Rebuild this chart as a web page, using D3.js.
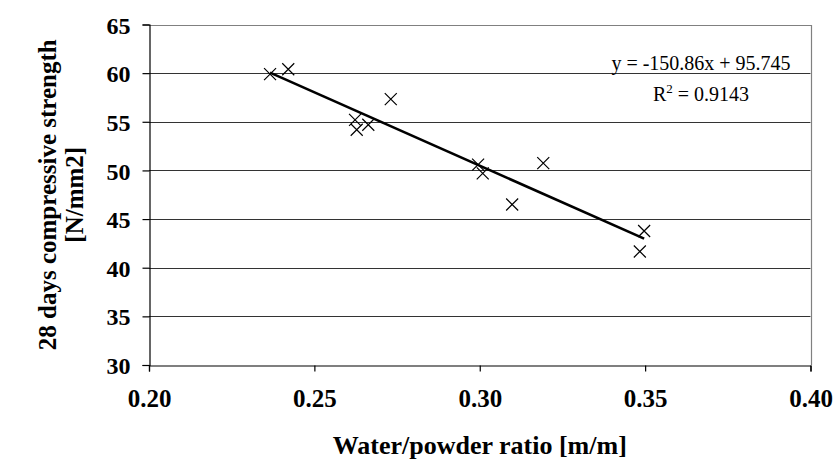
<!DOCTYPE html>
<html><head><meta charset="utf-8">
<script src="https://cdn.jsdelivr.net/npm/d3@7"></script>
<style>body{margin:0;background:#fff}svg{display:block}</style>
</head><body><svg id="c" width="835" height="459"></svg>
<script>
const waterPowder = [0.2366, 0.2421, 0.2731, 0.2623, 0.2628, 0.2663, 0.2995, 0.3009, 0.3192, 0.3098, 0.3497, 0.3484];
const strength28 = [59.9, 60.4, 57.33, 55.2, 54.18, 54.7, 50.6, 49.7, 50.75, 46.5, 43.77, 41.67];
const xTicks = [0.20, 0.25, 0.30, 0.35, 0.40];
const yTicks = [30, 35, 40, 45, 50, 55, 60, 65];
const trendSlope = -150.86, trendIntercept = 95.745, rSquared = 0.9143;

const svg = d3.select("#c");
const L = 149, R = 810.5, T = 24.5, B = 365;
const x = d3.scaleLinear().domain([0.2, 0.4]).range([L, R]);
const y = d3.scaleLinear().domain([30, 65]).range([B, T]);
const serif = "'Liberation Serif','Times New Roman',serif";

// gridlines
svg.append("g").selectAll("line").data(yTicks.filter(v => v > 30 && v < 65)).join("line")
  .attr("x1", L).attr("x2", R).attr("y1", d => Math.round(y(d)) + 0.5).attr("y2", d => Math.round(y(d)) + 0.5)
  .attr("stroke", "#333").attr("stroke-width", 1);
// frame top/right
svg.append("path").attr("d", `M${L},${Math.round(T)+0.5}H${Math.round(R)+0.5}V${B}`)
  .attr("fill", "none").attr("stroke", "#808080").attr("stroke-width", 1.2);

// axes
const xAxis = svg.append("g").attr("transform", `translate(0,${Math.round(B)+0.5})`)
  .call(d3.axisBottom(x).tickValues(xTicks).tickSize(6).tickPadding(18).tickFormat(d3.format(".2f")));
const yAxis = svg.append("g").attr("transform", `translate(${L+0.5},0)`)
  .call(d3.axisLeft(y).tickValues(yTicks).tickSize(7).tickPadding(12).tickFormat(d3.format("d")));
[xAxis, yAxis].forEach(g => {
  g.select(".domain").attr("stroke", "#000").attr("stroke-width", 1.2);
  g.selectAll(".tick line").attr("stroke", "#000").attr("stroke-width", 1.2);
  g.selectAll("text").attr("font-family", serif).attr("font-weight", "bold").attr("fill", "#000");
});
xAxis.selectAll("text").attr("font-size", 25);
yAxis.selectAll("text").attr("font-size", 24).attr("dy", "0.36em");

// trendline
const xr = d3.extent(waterPowder);
svg.append("line")
  .attr("x1", x(xr[0])).attr("y1", y(trendSlope * xr[0] + trendIntercept))
  .attr("x2", x(xr[1])).attr("y2", y(trendSlope * xr[1] + trendIntercept))
  .attr("stroke", "#000").attr("stroke-width", 2.6);

// markers
const s = 6;
svg.append("g").selectAll("path").data(waterPowder.map((v, i) => [v, strength28[i]])).join("path")
  .attr("d", d => { const cx = x(d[0]), cy = y(d[1]);
    return `M${cx-s},${cy-s}L${cx+s},${cy+s}M${cx-s},${cy+s}L${cx+s},${cy-s}`; })
  .attr("stroke", "#000").attr("stroke-width", 1.2).attr("fill", "none");

// equation
svg.append("text").attr("x", 701).attr("y", 70).attr("text-anchor", "middle")
  .attr("font-family", serif).attr("font-size", 20)
  .text(`y = ${trendSlope}x + ${trendIntercept}`);
const r2 = svg.append("text").attr("x", 701).attr("y", 101).attr("text-anchor", "middle")
  .attr("font-family", serif).attr("font-size", 20);
r2.append("tspan").text("R");
r2.append("tspan").attr("dy", -8).attr("font-size", 13).text("2");
r2.append("tspan").attr("dy", 8).text(` = ${rSquared}`);

// axis titles
svg.append("text").attr("x", (L + R) / 2).attr("y", 454).attr("text-anchor", "middle")
  .attr("font-family", serif).attr("font-weight", "bold").attr("font-size", 26)
  .text("Water/powder ratio [m/m]");
const yt = svg.append("text").attr("transform", `translate(56,${(T + B) / 2}) rotate(-90)`)
  .attr("text-anchor", "middle").attr("font-family", serif).attr("font-weight", "bold").attr("font-size", 25);
yt.append("tspan").attr("x", 0).attr("y", 0).text("28 days compressive strength");
yt.append("tspan").attr("x", 0).attr("y", 27).text("[N/mm2]");
</script></body></html>
